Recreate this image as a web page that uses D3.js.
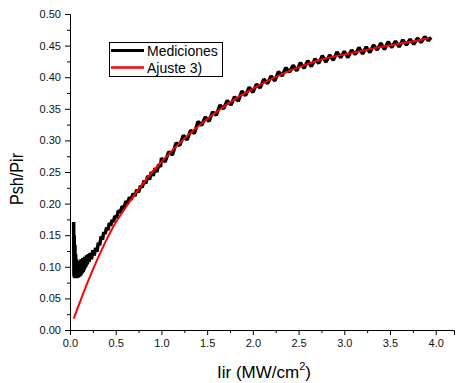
<!DOCTYPE html>
<html>
<head>
<meta charset="utf-8">
<script src="https://cdn.jsdelivr.net/npm/d3@7"></script>
<style>
  body { margin: 0; background: #fff; }
  text { font-family: Arial, 'Liberation Sans', sans-serif; }
</style>
</head>
<body>
<svg id="viz"></svg>
<script>
// measured curve (Mediciones)
const measX = [0.040, 0.043, 0.046, 0.050, 0.054, 0.058, 0.062, 0.066, 0.070, 0.075,
  0.080, 0.085, 0.090, 0.095, 0.100, 0.105, 0.110, 0.115, 0.120, 0.125,
  0.130, 0.135, 0.140, 0.145, 0.150, 0.155, 0.160, 0.165, 0.170, 0.175,
  0.180, 0.190, 0.200, 0.210, 0.220, 0.235, 0.250, 0.265, 0.280, 0.295,
  0.310, 0.325, 0.340, 0.355, 0.370, 0.385, 0.400, 0.415, 0.430, 0.445,
  0.460, 0.475, 0.490, 0.510, 0.530, 0.550, 0.570, 0.590, 0.610, 0.630,
  0.650, 0.670, 0.690, 0.710, 0.730, 0.750, 0.770, 0.790, 0.810, 0.830,
  0.850, 0.870, 0.890, 0.910, 0.930, 0.950, 0.970, 0.990,
  1.00, 1.04, 1.08, 1.12, 1.16, 1.20, 1.24, 1.28, 1.32,
  1.36, 1.40, 1.44, 1.48, 1.52, 1.56, 1.60, 1.64, 1.68, 1.72,
  1.76, 1.80, 1.84, 1.88, 1.92, 1.96, 2.00, 2.04, 2.08, 2.12,
  2.16, 2.20, 2.24, 2.28, 2.32, 2.36, 2.40, 2.44, 2.48, 2.52,
  2.56, 2.60, 2.64, 2.68, 2.72, 2.76, 2.80, 2.84, 2.88, 2.92,
  2.96, 3.00, 3.04, 3.08, 3.12, 3.16, 3.20, 3.24, 3.28, 3.32,
  3.36, 3.40, 3.44, 3.48, 3.52, 3.56, 3.60, 3.64, 3.68, 3.72,
  3.76, 3.80, 3.84, 3.88, 3.92, 3.95];
const measY = [0.171, 0.085, 0.150, 0.082, 0.135, 0.084, 0.120, 0.083, 0.112, 0.082,
  0.108, 0.084, 0.104, 0.083, 0.110, 0.086, 0.106, 0.085, 0.112, 0.088,
  0.108, 0.090, 0.114, 0.092, 0.110, 0.095, 0.116, 0.098, 0.114, 0.100,
  0.118, 0.104, 0.120, 0.108, 0.122, 0.112, 0.126, 0.118, 0.130, 0.124,
  0.138, 0.134, 0.148, 0.143, 0.155, 0.152, 0.162, 0.158, 0.169, 0.165,
  0.174, 0.171, 0.180, 0.178, 0.189, 0.186, 0.196, 0.192, 0.204, 0.200,
  0.210, 0.206, 0.216, 0.212, 0.222, 0.218, 0.228, 0.226, 0.236, 0.232,
  0.244, 0.238, 0.250, 0.244, 0.256, 0.250, 0.262, 0.258,
  0.272, 0.266, 0.282, 0.277, 0.296, 0.292, 0.308, 0.301, 0.316,
  0.311, 0.330, 0.324, 0.337, 0.330, 0.345, 0.340, 0.356, 0.350, 0.363,
  0.356, 0.369, 0.362, 0.378, 0.371, 0.384, 0.376, 0.389, 0.383, 0.397,
  0.390, 0.402, 0.394, 0.409, 0.402, 0.415, 0.408, 0.419, 0.410, 0.423,
  0.414, 0.426, 0.417, 0.429, 0.422, 0.434, 0.424, 0.435, 0.427, 0.440,
  0.431, 0.441, 0.431, 0.443, 0.436, 0.447, 0.437, 0.448, 0.439, 0.451,
  0.443, 0.454, 0.444, 0.456, 0.447, 0.457, 0.448, 0.459, 0.451, 0.460,
  0.452, 0.462, 0.455, 0.464, 0.458, 0.463];

// fitted curve (Ajuste 3))
const fitX = [0.04, 0.1, 0.2, 0.3, 0.4, 0.5, 0.6, 0.7, 0.8, 0.9, 1.0,
  1.2, 1.4, 1.6, 1.8, 2.0, 2.2, 2.4, 2.6, 2.8, 3.0, 3.2, 3.4, 3.6, 3.8, 3.93];
const fitY = [0.018, 0.041, 0.078, 0.112, 0.143, 0.170, 0.192, 0.213, 0.232, 0.250, 0.266,
  0.296, 0.322, 0.345, 0.365, 0.382, 0.397, 0.410, 0.421, 0.430, 0.436, 0.442, 0.448, 0.453, 0.458, 0.462];

const xMajor = [0, 0.5, 1, 1.5, 2, 2.5, 3, 3.5, 4];
const xMinor = [0.25, 0.75, 1.25, 1.75, 2.25, 2.75, 3.25, 3.75, 4.25];
const yMajor = [0, 0.05, 0.1, 0.15, 0.2, 0.25, 0.3, 0.35, 0.4, 0.45, 0.5];
const yMinor = [0.025, 0.075, 0.125, 0.175, 0.225, 0.275, 0.325, 0.375, 0.425, 0.475];

const legendNames = ['Mediciones', 'Ajuste 3)'];
const legendColors = ['#000000', '#ff0000'];

const width = 456;
const height = 383;

const svg = d3.select('#viz').attr('width', width).attr('height', height);

// SCALES

let x = d3.scaleLinear().domain([0, 4.2]).range([70, 454]);
let y = d3.scaleLinear().domain([0, 0.5]).range([330, 14]);

// AXES

const styleAxis = (g) => {
  g.select('.domain').attr('stroke', '#000').attr('stroke-width', 1);
  g.selectAll('.tick line').attr('stroke', '#000');
  g.selectAll('.tick text')
    .attr('fill', '#111')
    .style('font-size', '11px')
    .style('font-family', 'Arial, "Liberation Sans", sans-serif');
};

svg
  .append('g')
  .attr('transform', 'translate(0,' + y(0) + ')')
  .call(d3.axisBottom(x).tickValues(xMinor).tickSize(3).tickFormat(''))
  .call((g) => g.select('.domain').remove())
  .call(styleAxis);
svg
  .append('g')
  .attr('transform', 'translate(0,' + y(0) + ')')
  .call(d3.axisBottom(x).tickValues(xMajor).tickSize(5).tickPadding(4).tickFormat(d3.format('.1f')))
  .call(styleAxis);

svg
  .append('g')
  .attr('transform', 'translate(' + x(0) + ',0)')
  .call(d3.axisLeft(y).tickValues(yMinor).tickSize(3).tickFormat(''))
  .call((g) => g.select('.domain').remove())
  .call(styleAxis);
svg
  .append('g')
  .attr('transform', 'translate(' + x(0) + ',0)')
  .call(d3.axisLeft(y).tickValues(yMajor).tickSize(5).tickPadding(4).tickFormat(d3.format('.2f')))
  .call(styleAxis);

// LABELS

svg
  .append('text')
  .attr('transform', 'translate(23,179) rotate(-90) scale(0.9,1)')
  .attr('text-anchor', 'middle')
  .style('font-size', '18px')
  .text('Psh/Pir');

const xLabel = svg
  .append('text')
  .attr('x', 264)
  .attr('y', 378)
  .attr('text-anchor', 'middle')
  .style('font-size', '17px');
xLabel.append('tspan').text('Iir (MW/cm');
xLabel.append('tspan').attr('dy', -8).style('font-size', '11px').text('2');
xLabel.append('tspan').attr('dy', 8).text(')');

// DATA

const measData = measX.map((d, i) => [d, measY[i]]);
const fitData = fitX.map((d, i) => [d, fitY[i]]);

const line = d3
  .line()
  .x((d) => x(d[0]))
  .y((d) => y(d[1]));

svg
  .append('path')
  .datum(measData)
  .attr('fill', 'none')
  .attr('stroke', '#000')
  .attr('stroke-width', 3.5)
  .attr('stroke-linejoin', 'bevel')
  .attr('d', line);

svg
  .append('path')
  .datum(fitData)
  .attr('fill', 'none')
  .attr('stroke', '#ff0000')
  .attr('stroke-width', 2)
  .attr('d', line.curve(d3.curveMonotoneX));

// LEGEND

svg
  .append('rect')
  .attr('x', 109.5)
  .attr('y', 42.5)
  .attr('width', 113)
  .attr('height', 34)
  .attr('fill', '#fff')
  .attr('stroke', '#000')
  .attr('stroke-width', 1);

const legend = svg
  .selectAll('.legend')
  .data(legendNames)
  .enter()
  .append('g')
  .attr('class', 'legend')
  .attr('transform', (d, i) => 'translate(0,' + (50.5 + i * 17) + ')');

legend
  .append('line')
  .attr('x1', 111)
  .attr('x2', 144)
  .attr('stroke', (d, i) => legendColors[i])
  .attr('stroke-width', (d, i) => (i === 0 ? 3 : 2.5));

legend
  .append('text')
  .attr('x', 147)
  .attr('y', 5)
  .style('font-size', '14px')
  .text((d) => d);
</script>
</body>
</html>
